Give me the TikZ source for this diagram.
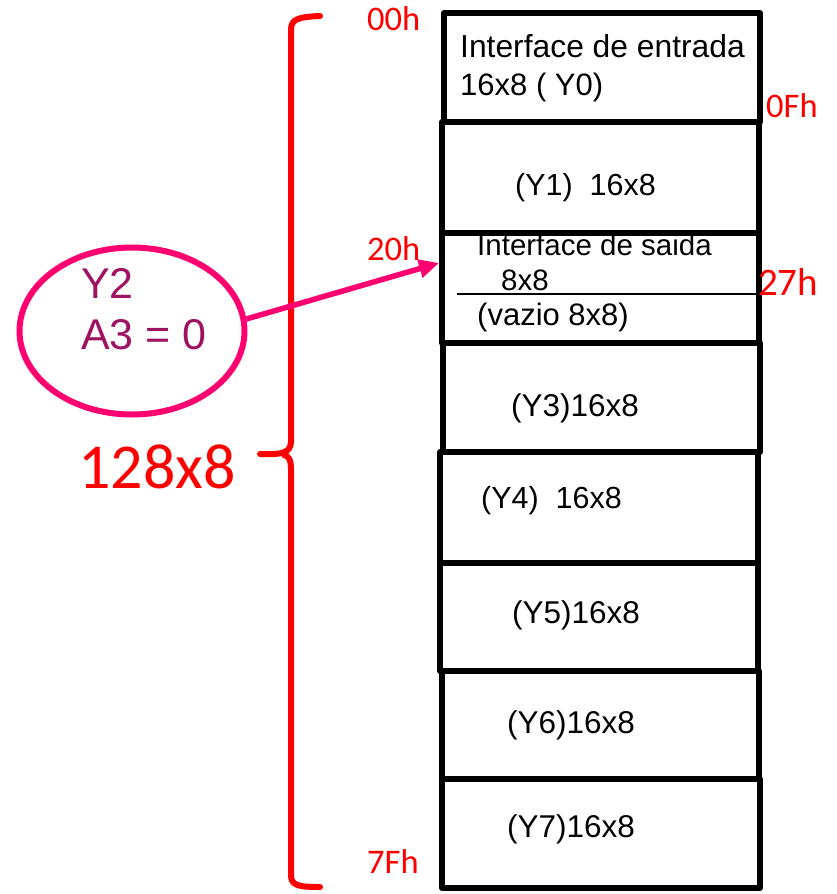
\documentclass[tikz,border=0pt]{standalone}
\usepackage{fontspec}
\setmainfont{Liberation Sans}
\newfontfamily\calib{Carlito}
\usetikzlibrary{shapes.geometric,arrows.meta}

\definecolor{selpink}{RGB}{255,0,112}
\definecolor{selpurple}{RGB}{158,18,98}
\definecolor{addrred}{RGB}{255,0,0}

\tikzset{
  cell/.style={draw=black, line width=6pt, rectangle, inner sep=0pt, line join=round},
  txt/.style={anchor=base west, inner sep=0pt, text=black},
  addr/.style={anchor=base west, inner sep=0pt, text=addrred, font=\calib\fontsize{34.5}{40}\selectfont},
  seltxt/.style={anchor=base west, inner sep=0pt, text=selpurple, font=\fontsize{43}{50}\selectfont},
}
\newcommand{\fs}[1]{\fontsize{#1}{#1}\selectfont}

\begin{document}
\begin{tikzpicture}[x=1pt,y=-1pt]
\useasboundingbox (0,0) rectangle (836,894);

% texts inside the memory cells
\node[txt, font=\fs{31.8}] (t0a) at (460,57) {Interface de entrada};
\node[txt, font=\fs{31}] (t0b) at (460,95) {16x8 ( Y0)};
\node[txt, font=\fs{30.5}] (t1) at (515,195) {(Y1)\ \ 16x8};
\node[txt, font=\fs{29.5}] (t2a) at (477,255) {Interface de saida};
\node[txt, font=\fs{29.5}] (t2b) at (501,290) {8x8};
\node[txt, font=\fs{31}] (t2c) at (477,325) {(vazio 8x8)};
\node[txt, font=\fs{31.5}] (t3) at (511,416) {(Y3)16x8};
\node[txt, font=\fs{30.5}] (t4) at (481,508) {(Y4)\ \ 16x8};
\node[txt, font=\fs{31.5}] (t5) at (512,623) {(Y5)16x8};
\node[txt, font=\fs{31.5}] (t6) at (507,733) {(Y6)16x8};
\node[txt, font=\fs{31.5}] (t7) at (507,837) {(Y7)16x8};

% memory cells
\node[cell, minimum width=316pt, minimum height=109pt] (c0) at (602,67.5) {};
\node[cell, minimum width=317pt, minimum height=111pt] (c1) at (600.5,177.5) {};
\node[cell, minimum width=317pt, minimum height=110pt] (c2) at (600.5,288) {};
\node[cell, minimum width=317pt, minimum height=109pt] (c3) at (601.5,397.5) {};
\node[cell, minimum width=318pt, minimum height=111pt] (c4) at (599,507.5) {};
\node[cell, minimum width=318pt, minimum height=108pt] (c5) at (599,617) {};
\node[cell, minimum width=317pt, minimum height=108pt] (c6) at (600.5,725) {};
\node[cell, minimum width=318pt, minimum height=109pt] (c7) at (601,833.5) {};

% divider inside the Y2 cell
\coordinate (sepL) at (457,294);
\draw[line width=1.2pt] (sepL) -- (sepL -| c2.east);

% address labels
\node[addr] (a00) at (367,30) {00h};
\node[addr] (a0F) at (766,117) {0Fh};
\node[addr] (a20) at (367,260) {20h};
\node[addr, font=\calib\fontsize{39}{44}\selectfont] (a27) at (758,295) {27h};
\node[addr] (a7F) at (367,873) {7Fh};

% brace spanning the whole memory
\draw[addrred, line width=6pt, line cap=round, line join=round]
  (320,16) .. controls (298,17) and (291,19) .. (291,30)
  -- (291,441) .. controls (291,452) and (284,455) .. (260,454)
  (284,455) .. controls (289,456) and (291,460) .. (291,470)
  -- (291,875) .. controls (291,885) and (297,887) .. (320,887);
\node[anchor=base west, inner sep=0pt, text=addrred, font=\calib\fontsize{64}{72}\selectfont] (tot) at (78,488) {128x8};

% chip-select annotation
\node[ellipse, draw=selpink, line width=6pt, minimum width=225pt, minimum height=167pt, inner sep=0pt] (sel) at (132,331) {};
\node[seltxt] (s1) at (81,298) {Y2};
\node[seltxt] (s2) at (81,349) {A3 = 0};

\coordinate (c2in) at ([yshift=25pt]c2.west);
\draw[selpink, line width=5.5pt, -{Triangle[length=20pt,width=18pt]}] (sel.6) -- (c2in);
\end{tikzpicture}
\end{document}
